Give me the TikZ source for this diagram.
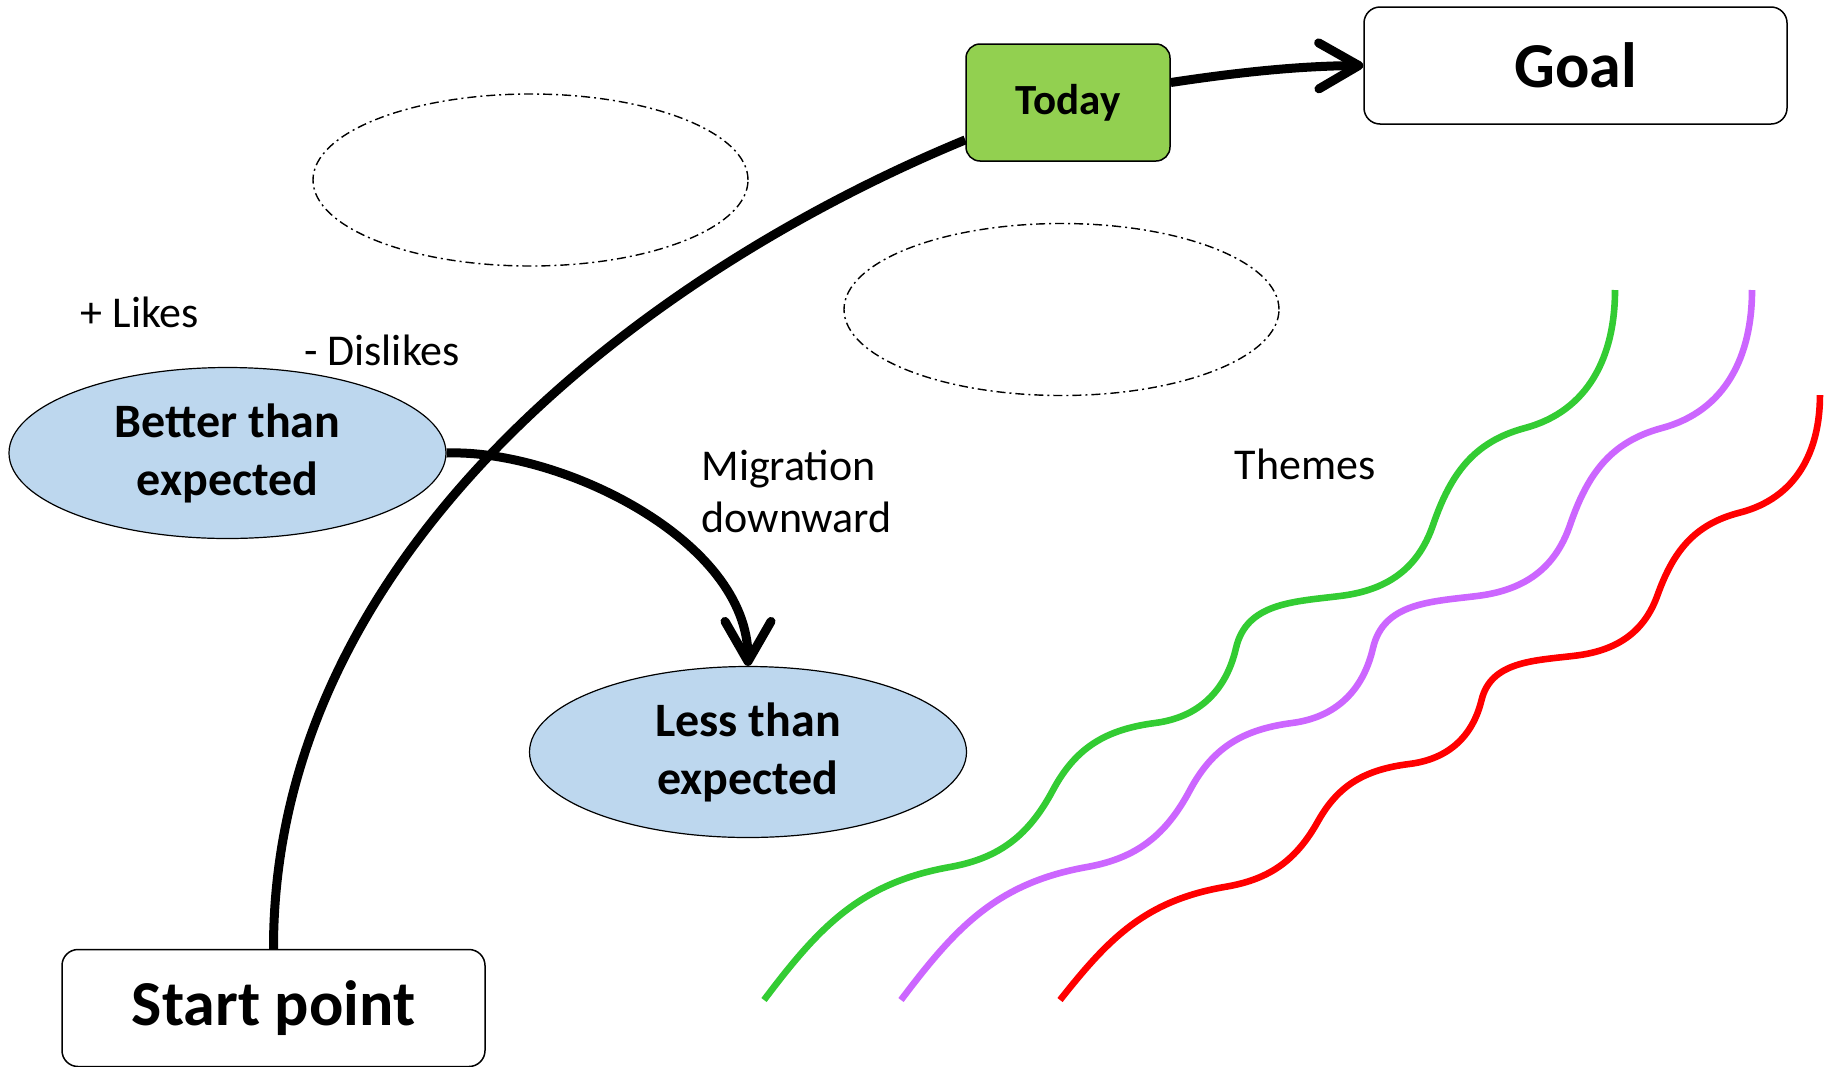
\documentclass[tikz,border=0pt]{standalone}
\usepackage{fontspec}
\setmainfont{Carlito}
\usetikzlibrary{shapes.geometric, arrows.meta}
\definecolor{ovalblue}{HTML}{BDD7EE}
\definecolor{todaygreen}{HTML}{92D050}
\definecolor{themegreen}{HTML}{33CC33}
\definecolor{themepurple}{HTML}{CC66FF}
\definecolor{themered}{HTML}{FF0000}

\begin{document}
\begin{tikzpicture}[x=0.5pt, y=-0.5pt,
  endbox/.style={draw, rounded corners=8pt, line width=0.75pt, minimum width=211.5pt, minimum height=58.5pt, inner sep=0pt, font=\fontsize{32}{38}\selectfont\bfseries},
  todaybox/.style={draw, fill=todaygreen, rounded corners=7pt, line width=0.75pt, minimum width=102pt, minimum height=58.5pt, inner sep=0pt, font=\fontsize{21.5}{26}\selectfont\bfseries},
  oval/.style={ellipse, draw, fill=ovalblue, line width=0.6pt, minimum width=218.5pt, minimum height=85.5pt, inner sep=0pt, align=center, font=\fontsize{24}{29}\selectfont\bfseries},
  dashoval/.style={ellipse, draw, line width=0.7pt, dash pattern=on 4.5pt off 2pt on 1pt off 2pt, minimum width=217.5pt, minimum height=86pt},
  note/.style={inner sep=0pt, font=\fontsize{22}{26}\selectfont},
  bigline/.style={line width=4.5pt},
  bigarrow/.style={bigline, -{Straight Barb[length=20pt, width=23pt, round]}},
  theme/.style={line width=3.3pt}]

  \useasboundingbox (0,0) rectangle (1829,1066);

  % boxes and ovals
  \node[endbox] (start) at (273.5,1008) {Start point};
  \node[endbox] (goal) at (1575.5,65.5) {Goal};
  \node[todaybox] (today) at (1068,102.5) {Today};
  \node[oval] (better) at (227.5,453) {Better than\\expected};
  \node[oval] (less) at (748,752) {Less than\\expected};
  \node[dashoval] (cloudA) at (530.5,180) {};
  \node[dashoval] (cloudB) at (1061.5,309.5) {};

  % labels
  \node[note, anchor=base] (likes) at (140,327) {+ Likes};
  \node[note, anchor=base] (dislikes) at (382,365) {- Dislikes};
  \node[note, anchor=base west, align=left] (migr) at (701,532) {Migration\\downward};
  \node[note, anchor=base] (themes) at (1305,479) {Themes};

  % connectors
  \draw[bigline] (start.north) .. controls (273,550) and (650,270) .. (today.200);
  \draw[bigarrow] (today.11) .. controls (1240,72) and (1300,66) .. (goal.west);
  \draw[bigarrow] (better.east) .. controls (560,449) and (748,540) .. (less.north);

  % theme lines
  \begin{scope}[shift={(764,1000)}]
    \draw[theme, themegreen] (0,0) .. controls (55,-73) and (96,-117) .. (186,-133)
      .. controls (236,-142) and (265,-165) .. (289,-210)
      .. controls (312,-253) and (342.5,-270.6) .. (391,-277)
      .. controls (434.6,-282.7) and (462,-309) .. (472,-352)
      .. controls (482.5,-397.3) and (529.8,-398.3) .. (576,-404)
      .. controls (622.5,-409.7) and (653.8,-430.7) .. (669,-475)
      .. controls (686.4,-525.6) and (709.3,-558.1) .. (761,-572)
      .. controls (824.7,-589.1) and (851,-644) .. (851,-710);
  \end{scope}
  \begin{scope}[shift={(901,1000)}]
    \draw[theme, themepurple] (0,0) .. controls (55,-73) and (96,-117) .. (186,-133)
      .. controls (236,-142) and (265,-165) .. (289,-210)
      .. controls (312,-253) and (342.5,-270.6) .. (391,-277)
      .. controls (434.6,-282.7) and (462,-309) .. (472,-352)
      .. controls (482.5,-397.3) and (529.8,-398.3) .. (576,-404)
      .. controls (622.5,-409.7) and (653.8,-430.7) .. (669,-475)
      .. controls (686.4,-525.6) and (709.3,-558.1) .. (761,-572)
      .. controls (824.7,-589.1) and (851,-644) .. (851,-710);
  \end{scope}
  \begin{scope}[shift={(1060,1000)}, xscale=0.893, yscale=0.852]
    \draw[theme, themered] (0,0) .. controls (55,-73) and (96,-117) .. (186,-133)
      .. controls (236,-142) and (265,-165) .. (289,-210)
      .. controls (312,-253) and (342.5,-270.6) .. (391,-277)
      .. controls (434.6,-282.7) and (462,-309) .. (472,-352)
      .. controls (482.5,-397.3) and (529.8,-398.3) .. (576,-404)
      .. controls (622.5,-409.7) and (653.8,-430.7) .. (669,-475)
      .. controls (686.4,-525.6) and (709.3,-558.1) .. (761,-572)
      .. controls (824.7,-589.1) and (851,-644) .. (851,-710);
  \end{scope}
\end{tikzpicture}
\end{document}
